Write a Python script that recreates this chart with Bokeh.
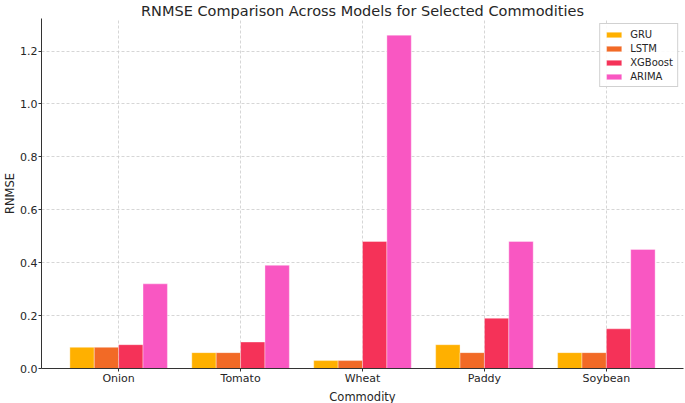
from bokeh.plotting import figure
from bokeh.models import (ColumnDataSource, FactorRange, Range1d, Legend, LegendItem,
                          FixedTicker, NumeralTickFormatter, Title)
from bokeh.transform import dodge
from bokeh.embed import file_html
from bokeh.resources import INLINE

commodities = ["Onion", "Tomato", "Wheat", "Paddy", "Soybean"]
models = ["GRU", "LSTM", "XGBoost", "ARIMA"]
gru = [0.08, 0.06, 0.03, 0.09, 0.06]
lstm = [0.08, 0.06, 0.03, 0.06, 0.06]
xgboost = [0.09, 0.10, 0.48, 0.19, 0.15]
arima = [0.32, 0.39, 1.26, 0.48, 0.45]
colors = ["#FFB000", "#F26A26", "#F53258", "#F957C2"]
y_ticks = [0.0, 0.2, 0.4, 0.6, 0.8, 1.0, 1.2]

src = ColumnDataSource(data=dict(commodity=commodities, GRU=gru, LSTM=lstm,
                                 XGBoost=xgboost, ARIMA=arima))

FONT = "DejaVu Sans"
TXT = "#262626"

p = figure(width=685, height=403, output_backend="svg", toolbar_location=None,
           x_range=FactorRange(*commodities, range_padding=0.1327, range_padding_units="absolute"),
           y_range=Range1d(0, 1.323),
           min_border_left=38, min_border_right=2, min_border_top=0, min_border_bottom=0)

offsets = [-0.3, -0.1, 0.1, 0.3]
items = []
for m, off, c in zip(models, offsets, colors):
    r = p.vbar(x=dodge("commodity", off, range=p.x_range), top=m, width=0.2, source=src,
               fill_color=c, line_color="white", line_width=0.6, line_alpha=0.6)
    items.append(LegendItem(label=m, renderers=[r]))

legend = Legend(items=items, location="top_right",
                label_text_font=FONT, label_text_font_size="10px", label_text_color=TXT,
                glyph_width=19, glyph_height=7, label_height=12, spacing=2,
                padding=4, margin=5, border_line_color="#cccccc", border_line_alpha=0.9,
                background_fill_alpha=0.9, label_standoff=7)
p.add_layout(legend, "center")

p.title.text = "RNMSE Comparison Across Models for Selected Commodities"
p.title.align = "center"
p.title.text_font = FONT
p.title.text_font_size = "14.5px"
p.title.text_font_style = "normal"
p.title.text_color = TXT
p.title.standoff = 0
p.title.offset = 0

p.outline_line_color = None
p.xgrid.grid_line_color = "#cccccc"
p.ygrid.grid_line_color = "#cccccc"
p.xgrid.grid_line_dash = "3 2"
p.ygrid.grid_line_dash = "3 2"
p.xgrid.grid_line_width = 0.8
p.ygrid.grid_line_width = 0.8

p.yaxis.ticker = FixedTicker(ticks=y_ticks)
p.yaxis.formatter = NumeralTickFormatter(format="0.0")
p.yaxis.axis_label = "RNMSE"

for ax in (p.xaxis[0], p.yaxis[0]):
    ax.axis_line_color = "#333333"
    ax.major_tick_line_color = "#333333"
    ax.major_tick_out = 3
    ax.major_tick_in = 0
    ax.minor_tick_line_color = None
    ax.major_label_text_font = FONT
    ax.major_label_text_font_size = "11px"
    ax.major_label_text_color = TXT
    ax.axis_label_text_font = FONT
    ax.axis_label_text_font_size = "11.5px"
    ax.axis_label_text_font_style = "normal"
    ax.axis_label_text_color = TXT
p.yaxis.major_label_standoff = 1
p.yaxis.axis_label_standoff = 0
p.xaxis.major_label_standoff = 0
p.xaxis.axis_label_standoff = 0

xlab = Title(text="Commodity", align="center", text_font=FONT, text_font_size="11.5px",
             text_font_style="normal", text_color=TXT, standoff=0, offset=0)
p.add_layout(xlab, "below")

open("out.html", "w").write(file_html(p, INLINE))
